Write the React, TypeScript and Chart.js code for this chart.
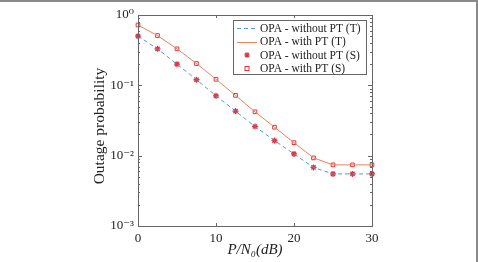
import React, { useEffect, useRef } from "react";
import { Chart, registerables } from "chart.js";

Chart.register(...registerables);

const snrDb = [0, 2.5, 5, 7.5, 10, 12.5, 15, 17.5, 20, 22.5, 25, 27.5, 30];
const withoutPtTheory = [0.5, 0.33, 0.2, 0.12, 0.071, 0.043, 0.026, 0.0164, 0.0106, 0.0068, 0.0055, 0.0055, 0.0055];
const withPtTheory = [0.72, 0.51, 0.33, 0.204, 0.122, 0.072, 0.042, 0.0254, 0.0153, 0.0093, 0.0074, 0.0074, 0.0074];
const withoutPtSim = [0.5, 0.33, 0.2, 0.12, 0.071, 0.043, 0.026, 0.0164, 0.0106, 0.0068, 0.0055, 0.0055, 0.0055];
const withPtSim = [0.72, 0.51, 0.33, 0.204, 0.122, 0.072, 0.042, 0.0254, 0.0153, 0.0093, 0.0074, 0.0074, 0.0074];
const seriesLabels = ["OPA - without PT (T)", "OPA - with PT (T)", "OPA - without PT (S)", "OPA - with PT (S)"];
const xTicks = [0, 10, 20, 30];
const yDecades = [0.001, 0.01, 0.1, 1];
const yDecadeLabels = ["10\u207B\u00B3", "10\u207B\u00B2", "10\u207B\u00B9", "10\u2070"];
const xTitle = "P/N\u2080(dB)";
const yTitle = "Outage probability";

const SERIF = "'Liberation Serif', 'DejaVu Serif', serif";
const BLUE = "#4f9bd0";
const ORANGE = "#e8835c";
const RED = "#e03340";

const pts = (ys: number[]) => snrDb.map((x, i) => ({ x, y: ys[i] }));

const framePlugin = {
  id: "frame",
  afterDraw(chart: any) {
    const { ctx, chartArea: a, scales } = chart;
    const xs = scales.x;
    const ys = scales.y;
    ctx.save();
    ctx.strokeStyle = "#666";
    ctx.lineWidth = 1;
    ctx.strokeRect(Math.round(a.left) + 0.5, Math.round(a.top) + 0.5, Math.round(a.right - a.left), Math.round(a.bottom - a.top));
    ctx.beginPath();
    for (const v of xTicks) {
      const px = Math.round(xs.getPixelForValue(v)) + 0.5;
      ctx.moveTo(px, a.bottom);
      ctx.lineTo(px, a.bottom - 3);
      ctx.moveTo(px, a.top);
      ctx.lineTo(px, a.top + 3);
    }
    for (let d = 0; d < yDecades.length; d++) {
      const base = yDecades[d];
      const py = Math.round(ys.getPixelForValue(base)) + 0.5;
      ctx.moveTo(a.left, py);
      ctx.lineTo(a.left + 4, py);
      ctx.moveTo(a.right, py);
      ctx.lineTo(a.right - 4, py);
      if (base < 1) {
        for (let k = 2; k <= 9; k++) {
          const pm = Math.round(ys.getPixelForValue(base * k)) + 0.5;
          ctx.moveTo(a.left, pm);
          ctx.lineTo(a.left + 2, pm);
          ctx.moveTo(a.right, pm);
          ctx.lineTo(a.right - 2, pm);
        }
      }
    }
    ctx.stroke();

    // axis titles
    ctx.fillStyle = "#222";
    ctx.font = `15.5px ${SERIF}`;
    ctx.textAlign = "center";
    ctx.textBaseline = "middle";
    ctx.save();
    ctx.translate(100, 126);
    ctx.rotate(-Math.PI / 2);
    ctx.fillText(yTitle, 0, 0);
    ctx.restore();
    ctx.font = `italic 15px ${SERIF}`;
    ctx.fillText(xTitle, (a.left + a.right) / 2, 250);

    // legend
    const lx = 233, ly = 20, lw = 133, lh = 54;
    ctx.fillStyle = "#fff";
    ctx.fillRect(lx, ly, lw, lh);
    ctx.strokeStyle = "#666";
    ctx.strokeRect(lx + 0.5, ly + 0.5, lw, lh);
    ctx.font = `11.5px ${SERIF}`;
    ctx.textAlign = "left";
    ctx.fillStyle = "#222";
    for (let i = 0; i < seriesLabels.length; i++) {
      const cy = ly + 8 + i * 13.5;
      const ds = chart.data.datasets[i];
      ctx.save();
      if (i < 2) {
        ctx.strokeStyle = ds.borderColor;
        ctx.lineWidth = 1;
        ctx.setLineDash(ds.borderDash || []);
        ctx.beginPath();
        ctx.moveTo(lx + 4, Math.round(cy) + 0.5);
        ctx.lineTo(lx + 24, Math.round(cy) + 0.5);
        ctx.stroke();
      } else {
        ctx.strokeStyle = RED;
        ctx.lineWidth = 1.2;
        if (i === 2) {
          const r = 2.8, cx = lx + 14;
          ctx.beginPath();
          for (let k = 0; k < 4; k++) {
            const ang = (k * Math.PI) / 4;
            ctx.moveTo(cx - r * Math.cos(ang), cy - r * Math.sin(ang));
            ctx.lineTo(cx + r * Math.cos(ang), cy + r * Math.sin(ang));
          }
          ctx.stroke();
        } else {
          ctx.lineWidth = 1;
          ctx.strokeRect(lx + 12, cy - 2, 4, 4);
        }
      }
      ctx.restore();
      ctx.fillText(seriesLabels[i], lx + 27, cy + 0.5);
    }
    ctx.restore();
  },
};

export default function App() {
  const ref = useRef<HTMLCanvasElement>(null);
  useEffect(() => {
    document.body.style.margin = "0";
    const chart = new Chart(ref.current as HTMLCanvasElement, {
      type: "line",
      data: {
        datasets: [
          { label: seriesLabels[0], data: pts(withoutPtTheory), borderColor: BLUE, borderWidth: 1, borderDash: [4, 3], pointRadius: 0, fill: false, clip: false },
          { label: seriesLabels[1], data: pts(withPtTheory), borderColor: ORANGE, borderWidth: 1, pointRadius: 0, fill: false, clip: false },
          { label: seriesLabels[2], data: pts(withoutPtSim), showLine: false, pointStyle: "star", pointRadius: 3, borderColor: RED, backgroundColor: RED, pointBorderWidth: 1.3, clip: false },
          { label: seriesLabels[3], data: pts(withPtSim), showLine: false, pointStyle: "rect", pointRadius: 2.6, borderColor: RED, backgroundColor: "rgba(0,0,0,0)", pointBorderWidth: 1, clip: false },
        ],
      },
      options: {
        animation: false,
        responsive: false,
        layout: { padding: { left: 0, right: 106, top: 15, bottom: 0 } },
        plugins: { legend: { display: false }, tooltip: { enabled: false } },
        scales: {
          x: {
            type: "linear",
            min: 0,
            max: 30,
            grid: { display: false, drawTicks: false },
            border: { display: false },
            afterBuildTicks: (s: any) => { s.ticks = xTicks.map((v) => ({ value: v })); },
            ticks: { color: "#222", font: { family: SERIF, size: 13 }, padding: 5, maxRotation: 0 },
            afterFit: (s: any) => { s.height = 36; },
          },
          y: {
            type: "logarithmic",
            min: 0.001,
            max: 1,
            grid: { display: false, drawTicks: false },
            border: { display: false },
            afterBuildTicks: (s: any) => { s.ticks = yDecades.map((v) => ({ value: v, major: true })); },
            ticks: {
              color: "#222",
              font: { family: SERIF, size: 13 },
              padding: 4,
              callback: (v: any) => {
                const i = yDecades.findIndex((d) => Math.abs(d - v) / d < 1e-6);
                return i >= 0 ? yDecadeLabels[i] : "";
              },
            },
            afterFit: (s: any) => { s.width = 138; },
          },
        },
      },
      plugins: [framePlugin],
    } as any);
    return () => chart.destroy();
  }, []);
  return (
    <div style={{ width: 478, height: 262, position: "relative", boxSizing: "border-box", borderTop: "2px solid #8a8a8a", borderRight: "2px solid #8a8a8a", overflow: "hidden" }}>
      <canvas ref={ref} width={478} height={262} style={{ position: "absolute", left: 0, top: -2, display: "block" }} />
    </div>
  );
}
